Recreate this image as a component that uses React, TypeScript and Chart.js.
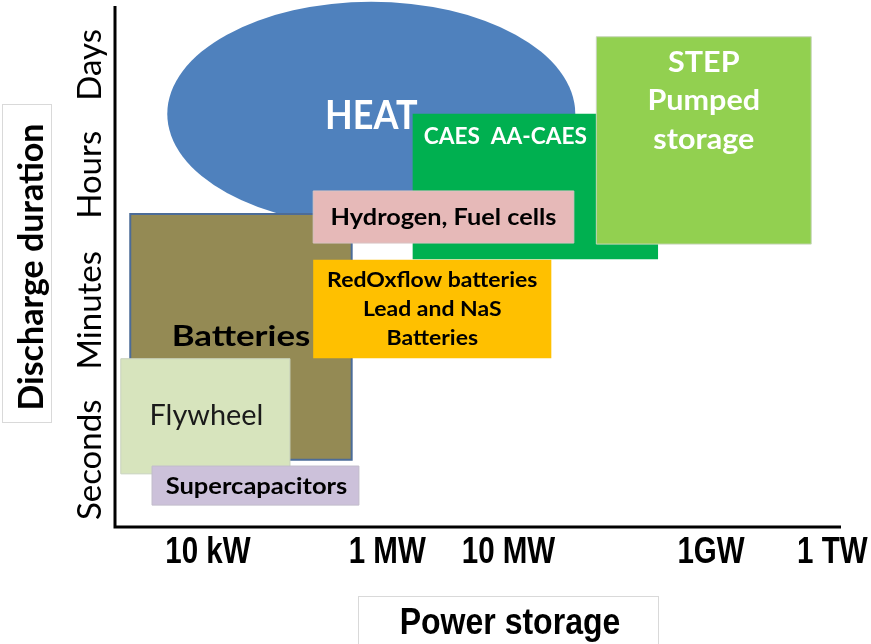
import React, { useEffect, useRef } from "react";
import { Chart, registerables } from "chart.js";

Chart.register(...registerables);

// ---- data (diagram units: power 0..100 across the axis, duration 0..100 up the axis) ----
const POWER_TICK_LABELS = ["10 kW", "1 MW", "10 MW", "1GW", "1 TW"];
const POWER_TICK_VALUES = [12.8, 37.5, 54.2, 82.1, 98.8];
const DURATION_TICK_LABELS = ["Seconds", "Minutes", "Hours", "Days"];
const DURATION_TICK_VALUES = [12.9, 41.6, 67.6, 88.7];

const TECH_NAMES = [
  "HEAT",
  "Batteries",
  "Flywheel",
  "Supercapacitors",
  "CAES  AA-CAES",
  "Hydrogen, Fuel cells",
  "RedOxflow batteries\nLead and NaS\nBatteries",
  "STEP\nPumped\nstorage",
];
const POWER_MIN = [7.2, 2.1, 0.8, 5.1, 41.0, 27.3, 27.3, 66.3];
const POWER_MAX = [63.4, 32.6, 24.1, 33.6, 74.8, 63.2, 60.1, 95.9];
const DURATION_MIN = [57.8, 12.9, 10.2, 4.2, 51.4, 54.5, 32.4, 54.3];
const DURATION_MAX = [100.8, 60.1, 32.3, 11.7, 79.3, 64.5, 51.3, 94.1];

const X_TITLE = "Power storage";
const Y_TITLE = "Discharge duration";

// ---- styles ----
const SHAPE_STYLES = [
  { kind: "ellipse", fill: "#4F81BD", stroke: null, font: "bold 40px Lato", sx: 0.9, color: "#ffffff", anchor: "center", dx: 0, dy: 2, lh: 40 },
  { kind: "rect", fill: "#948A54", stroke: "#4C6C98", sw: 2, font: "bold 29px Lato", sx: 1.2, color: "#000000", anchor: "center", dx: 0, dy: 0, lh: 30 },
  { kind: "rect", fill: "#D7E4BD", stroke: "#C9D2BE", sw: 1, font: "28px Lato", sx: 1.03, color: "#1a1a1a", anchor: "center", dx: 1, dy: 0, lh: 26 },
  { kind: "rect", fill: "#CCC1DA", stroke: "#C2BCCB", sw: 1, font: "bold 22px Lato", sx: 1.16, color: "#000000", anchor: "center", dx: 1, dy: 1, lh: 20 },
  { kind: "rect", fill: "#00B050", stroke: null, font: "bold 22px Lato", sx: 1.03, color: "#ffffff", anchor: "topleft", dx: 11, dy: 23, lh: 20 },
  { kind: "rect", fill: "#E6B9B8", stroke: "#D9C4C4", sw: 1, font: "bold 23px Lato", sx: 1.1, color: "#000000", anchor: "center", dx: 0, dy: 1, lh: 21 },
  { kind: "rect", fill: "#FFC000", stroke: null, font: "bold 20px Lato", sx: 1.15, color: "#000000", anchor: "center", dx: 0, dy: 1, lh: 29 },
  { kind: "rect", fill: "#92D050", stroke: "#C8D6BC", sw: 1, font: "bold 28px Lato", sx: 1.09, color: "#ffffff", anchor: "top", dx: 0, dy: 26, lh: 38.5 },
];

function drawScaledText(ctx: CanvasRenderingContext2D, text: string, x: number, y: number, sx: number) {
  ctx.save();
  ctx.translate(x, y);
  ctx.scale(sx, 1);
  ctx.fillText(text, 0, 0);
  ctx.restore();
}

const diagramPlugin = {
  id: "storageDiagram",
  afterDraw(chart: any) {
    const ctx: CanvasRenderingContext2D = chart.ctx;
    const xs = chart.scales.x;
    const ys = chart.scales.y;
    const area = chart.chartArea;

    // shapes
    for (let i = 0; i < TECH_NAMES.length; i++) {
      const st: any = SHAPE_STYLES[i];
      const x0 = xs.getPixelForValue(POWER_MIN[i]);
      const x1 = xs.getPixelForValue(POWER_MAX[i]);
      const y0 = ys.getPixelForValue(DURATION_MAX[i]);
      const y1 = ys.getPixelForValue(DURATION_MIN[i]);
      ctx.save();
      ctx.beginPath();
      if (st.kind === "ellipse") {
        ctx.ellipse((x0 + x1) / 2, (y0 + y1) / 2, (x1 - x0) / 2, (y1 - y0) / 2, 0, 0, Math.PI * 2);
      } else {
        ctx.rect(x0, y0, x1 - x0, y1 - y0);
      }
      ctx.fillStyle = st.fill;
      ctx.fill();
      if (st.stroke) {
        ctx.lineWidth = st.sw;
        ctx.strokeStyle = st.stroke;
        ctx.stroke();
      }
      // label
      const lines = TECH_NAMES[i].split("\n");
      ctx.font = st.font;
      ctx.fillStyle = st.color;
      ctx.textBaseline = "middle";
      let cx: number;
      let cy: number;
      if (st.anchor === "topleft") {
        ctx.textAlign = "left";
        cx = x0 + st.dx;
        cy = y0 + st.dy;
      } else if (st.anchor === "top") {
        ctx.textAlign = "center";
        cx = (x0 + x1) / 2 + st.dx;
        cy = y0 + st.dy;
      } else {
        ctx.textAlign = "center";
        cx = (x0 + x1) / 2 + st.dx;
        cy = (y0 + y1) / 2 + st.dy - ((lines.length - 1) * st.lh) / 2;
      }
      lines.forEach((ln, k) => drawScaledText(ctx, ln, cx, cy + k * st.lh, st.sx));
      ctx.restore();
    }

    // axes
    ctx.save();
    ctx.strokeStyle = "#000000";
    ctx.lineWidth = 3;
    ctx.beginPath();
    ctx.moveTo(area.left, area.top);
    ctx.lineTo(area.left, area.bottom);
    ctx.lineTo(area.right, area.bottom);
    ctx.stroke();

    // x tick labels
    ctx.font = "bold 36px 'Liberation Sans', Arial";
    ctx.fillStyle = "#000000";
    ctx.textAlign = "center";
    ctx.textBaseline = "alphabetic";
    POWER_TICK_LABELS.forEach((t, k) => {
      drawScaledText(ctx, t, xs.getPixelForValue(POWER_TICK_VALUES[k]), area.bottom + 36, 0.82);
    });

    // y tick labels (rotated)
    ctx.font = "33px Lato";
    DURATION_TICK_LABELS.forEach((t, k) => {
      ctx.save();
      ctx.translate(area.left - 14, ys.getPixelForValue(DURATION_TICK_VALUES[k]));
      ctx.rotate(-Math.PI / 2);
      ctx.textAlign = "center";
      ctx.textBaseline = "alphabetic";
      ctx.fillText(t, 0, 0);
      ctx.restore();
    });

    // y title box
    ctx.fillStyle = "#ffffff";
    ctx.strokeStyle = "#D9D9D9";
    ctx.lineWidth = 1;
    ctx.fillRect(2.5, 104.5, 49, 318);
    ctx.strokeRect(2.5, 104.5, 49, 318);
    ctx.save();
    ctx.translate(43, 267);
    ctx.rotate(-Math.PI / 2);
    ctx.font = "bold 34px Lato";
    ctx.fillStyle = "#000000";
    ctx.textAlign = "center";
    ctx.textBaseline = "alphabetic";
    ctx.fillText(Y_TITLE, 0, 0);
    ctx.restore();

    // x title box
    ctx.fillStyle = "#ffffff";
    ctx.strokeStyle = "#D9D9D9";
    ctx.fillRect(358.5, 596.5, 300, 60);
    ctx.strokeRect(358.5, 596.5, 300, 60);
    ctx.font = "bold 37px 'Liberation Sans', Arial";
    ctx.fillStyle = "#000000";
    ctx.textAlign = "center";
    ctx.textBaseline = "alphabetic";
    drawScaledText(ctx, X_TITLE, 510, 634, 0.865);
    ctx.restore();
  },
};

export default function App() {
  const ref = useRef<HTMLCanvasElement | null>(null);
  useEffect(() => {
    document.body.style.margin = "0";
    const canvas = ref.current!;
    const chart = new Chart(canvas, {
      type: "scatter",
      data: { datasets: [{ data: [], showLine: false }] },
      options: {
        animation: false,
        responsive: false,
        devicePixelRatio: 1,
        layout: { padding: { left: 115, right: 30, top: 6, bottom: 117 } },
        plugins: { legend: { display: false }, tooltip: { enabled: false } },
        scales: {
          x: { type: "linear", min: 0, max: 100, display: false },
          y: { type: "linear", min: 0, max: 100, display: false },
        },
      },
      plugins: [diagramPlugin],
    });
    return () => chart.destroy();
  }, []);
  return (
    <div style={{ width: 871, height: 644, background: "#ffffff" }}>
      <canvas ref={ref} width={871} height={644} style={{ display: "block" }} />
    </div>
  );
}
